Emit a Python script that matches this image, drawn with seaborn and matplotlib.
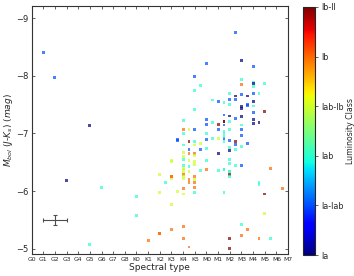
import numpy as np
import pandas as pd
import matplotlib
matplotlib.use('Agg')
import matplotlib.pyplot as plt
import seaborn as sns

# spectral subtype index (G0=0 ... M7=22), Mbol(J-Ks), luminosity class code (Ia=0 ... Ib-II=5)
spt = [1, 2, 5, 3, 6, 5, 9, 9, 10, 11, 12, 12, 12.5,
       17.5, 18, 19, 15, 14, 14.5, 14, 18, 18, 19, 19, 19, 20, 19.5,
       17, 17, 17.5, 17.5, 18, 18.5, 19, 19, 18.5, 17, 15.5, 16,
       14, 13, 15, 15, 15.5, 16, 16, 16.5, 16.5, 13, 13.5, 14, 13, 15, 16.5,
       12.5, 13.5, 14, 14.5, 13, 15, 15.5, 16, 16.5, 14, 16.5,
       13.5, 14.5, 15, 16, 13, 13, 13.5, 14, 14, 12, 13, 13.5, 14, 14, 15,
       13, 13, 13.5, 14.5, 15, 16,
       16.5, 17, 17.5, 18, 18, 18, 18, 18, 18, 18.5, 19, 19, 19, 19, 19.5, 20,
       16.5, 16.5, 16.5, 16.5, 17, 17, 17, 17, 17, 17.5, 17.5, 17.5, 18, 18.5,
       17, 17, 17.5, 18, 16.5, 17, 20.5,
       13, 13, 13, 13, 13, 13.5, 12, 12, 11.5, 13.5, 13.5, 14, 14, 14, 14, 14,
       16.5, 11, 11, 12.5, 13, 13, 12, 13, 12, 11, 13, 13.5,
       16.5, 17, 17, 17, 19.5, 19.5, 21.5, 20, 20, 18, 18.5, 18, 17, 19.5, 20.5, 17]
mbol = [-8.40, -7.97, -7.13, -6.18, -6.07, -5.07, -5.91, -5.58, -5.14, -5.26, -6.53, -6.26, -6.89,
        -8.75, -8.26, -8.16, -8.22, -7.98, -7.83, -7.74, -7.94, -7.85, -7.89, -7.86, -7.81, -7.87, -7.70,
        -7.69, -7.59, -7.65, -7.59, -7.68, -7.65, -7.69, -7.56, -7.50, -7.51, -7.58, -7.55,
        -7.42, -7.23, -7.245, -7.15, -7.19, -7.15, -7.07, -7.32, -7.205, -7.07, -7.07, -7.07, -7.00, -7.00, -7.00,
        -6.88, -6.86, -6.86, -6.82, -6.80, -6.90, -6.92, -6.92, -6.92, -6.80, -6.86,
        -6.725, -6.714, -6.743, -6.645, -6.668, -6.60, -6.645, -6.656, -6.61, -6.51, -6.553, -6.53, -6.51, -6.455, -6.53,
        -6.40, -6.45, -6.42, -6.36, -6.38, -6.36,
        -7.534, -7.303, -7.262, -7.465, -7.436, -7.29, -7.147, -7.072, -6.957, -7.48, -7.476, -7.361, -7.234, -7.165, -7.188, -7.378,
        -7.205, -7.147, -7.032, -6.945, -7.205, -7.061, -6.876, -6.76, -6.702, -6.858, -6.812, -6.725, -6.771, -6.829,
        -6.541, -6.472, -6.443, -6.443, -6.38, -6.339, -6.397,
        -6.37, -6.33, -6.29, -6.25, -6.22, -6.34, -6.25, -6.21, -6.15, -6.20, -6.15, -6.25, -6.20, -6.15, -6.07, -5.98,
        -5.97, -5.98, -6.28, -6.00, -6.05, -5.95, -5.77, -5.39, -5.34, -5.26, -5.17, -5.03,
        -6.37, -6.34, -6.28, -6.25, -6.15, -6.12, -6.05, -5.95, -5.61, -5.42, -5.33, -5.23, -5.17, -5.17, -5.17, -5.01]
lum = [1, 1, 0, 0, 2, 2, 2, 2, 4, 4, 3, 4, 1,
       1, 0, 1, 1, 1, 2, 2, 2, 4, 2, 0, 2, 2, 2,
       2, 1, 0, 1, 1, 0, 1, 0, 1, 2, 2, 1,
       2, 2, 1, 1, 2, 5, 1, 1, 5, 4, 3, 1, 2, 2, 2,
       1, 5, 2, 3, 2, 1, 2, 3, 1, 3, 2,
       1, 1, 2, 0, 3, 3, 4, 4, 3, 3, 2, 3, 3, 3, 2,
       3, 2, 2, 2, 4, 2,
       2, 0, 1, 0, 0, 0, 2, 1, 1, 1, 2, 1, 0, 0, 0, 5,
       5, 1, 2, 2, 2, 2, 1, 2, 0, 5, 1, 2, 2, 1,
       2, 2, 2, 1, 2, 2, 4,
       3, 3, 4, 3, 3, 3, 4, 3, 2, 4, 4, 4, 3, 4, 4, 2,
       2, 3, 3, 3, 4, 3, 3, 4, 4, 4, 4, 4,
       2, 2, 5, 2, 2, 2, 4, 5, 3, 2, 4, 4, 5, 4, 2, 5]

spt_labels = ['G0', 'G1', 'G2', 'G3', 'G4', 'G5', 'G6', 'G7', 'G8', 'K0', 'K1', 'K2', 'K3',
              'K4', 'K5', 'M0', 'M1', 'M2', 'M3', 'M4', 'M5', 'M6', 'M7']
lum_labels = ['Ia', 'Ia-Iab', 'Iab', 'Iab-Ib', 'Ib', 'Ib-II']

# typical error bar
err_x, err_y = 2, -5.5
err_dx, err_dy = 1, 0.08

data = pd.DataFrame({'spt': spt, 'mbol': mbol, 'lum': lum})

sns.set_style('ticks')
plt.rcParams['font.family'] = ['DejaVu Sans']

fig = plt.figure(figsize=(3.54, 2.76), dpi=100)
ax = fig.add_axes([0.089, 0.08, 0.725, 0.898])
cax = fig.add_axes([0.857, 0.076, 0.034, 0.899])

jet = plt.get_cmap('jet')
norm = plt.Normalize(0, 5)
sns.scatterplot(data=data, x='spt', y='mbol', hue='lum', palette=jet, hue_norm=norm,
                marker='s', s=4.5, alpha=0.7, linewidth=0, legend=False, ax=ax)

ax.errorbar(err_x, err_y, xerr=err_dx, yerr=err_dy, color='0.3', lw=0.8, capsize=1.5, capthick=0.8)

ax.set_xlim(0, 22)
ax.set_ylim(-4.91, -9.21)
ax.set_xticks(range(len(spt_labels)))
ax.set_xticklabels(spt_labels, fontsize=4.4)
ax.set_yticks([-9, -8, -7, -6, -5])
ax.set_yticklabels(['\u22129', '\u22128', '\u22127', '\u22126', '\u22125'], fontsize=6)
ax.tick_params(direction='in', top=True, right=True, length=2.5, width=0.5, pad=2)
for sp in ax.spines.values():
    sp.set_linewidth(0.8)
    sp.set_color('0.2')
ax.set_xlabel('Spectral type', fontsize=6.5, labelpad=1)
ax.set_ylabel(r'$M_{bol}$ $(J$-$K_s)$ $(mag)$', fontsize=6.5, labelpad=1)

sm = plt.cm.ScalarMappable(cmap=jet, norm=norm)
cb = fig.colorbar(sm, cax=cax, ticks=range(6))
cb.ax.set_yticklabels(lum_labels, fontsize=5.8)
cb.ax.tick_params(length=2.5, width=0.5, pad=1.5)
cb.outline.set_linewidth(0.8)
cb.set_label('Luminosity Class', fontsize=5.6, labelpad=1.5)

fig.savefig('out.png', dpi=100)
